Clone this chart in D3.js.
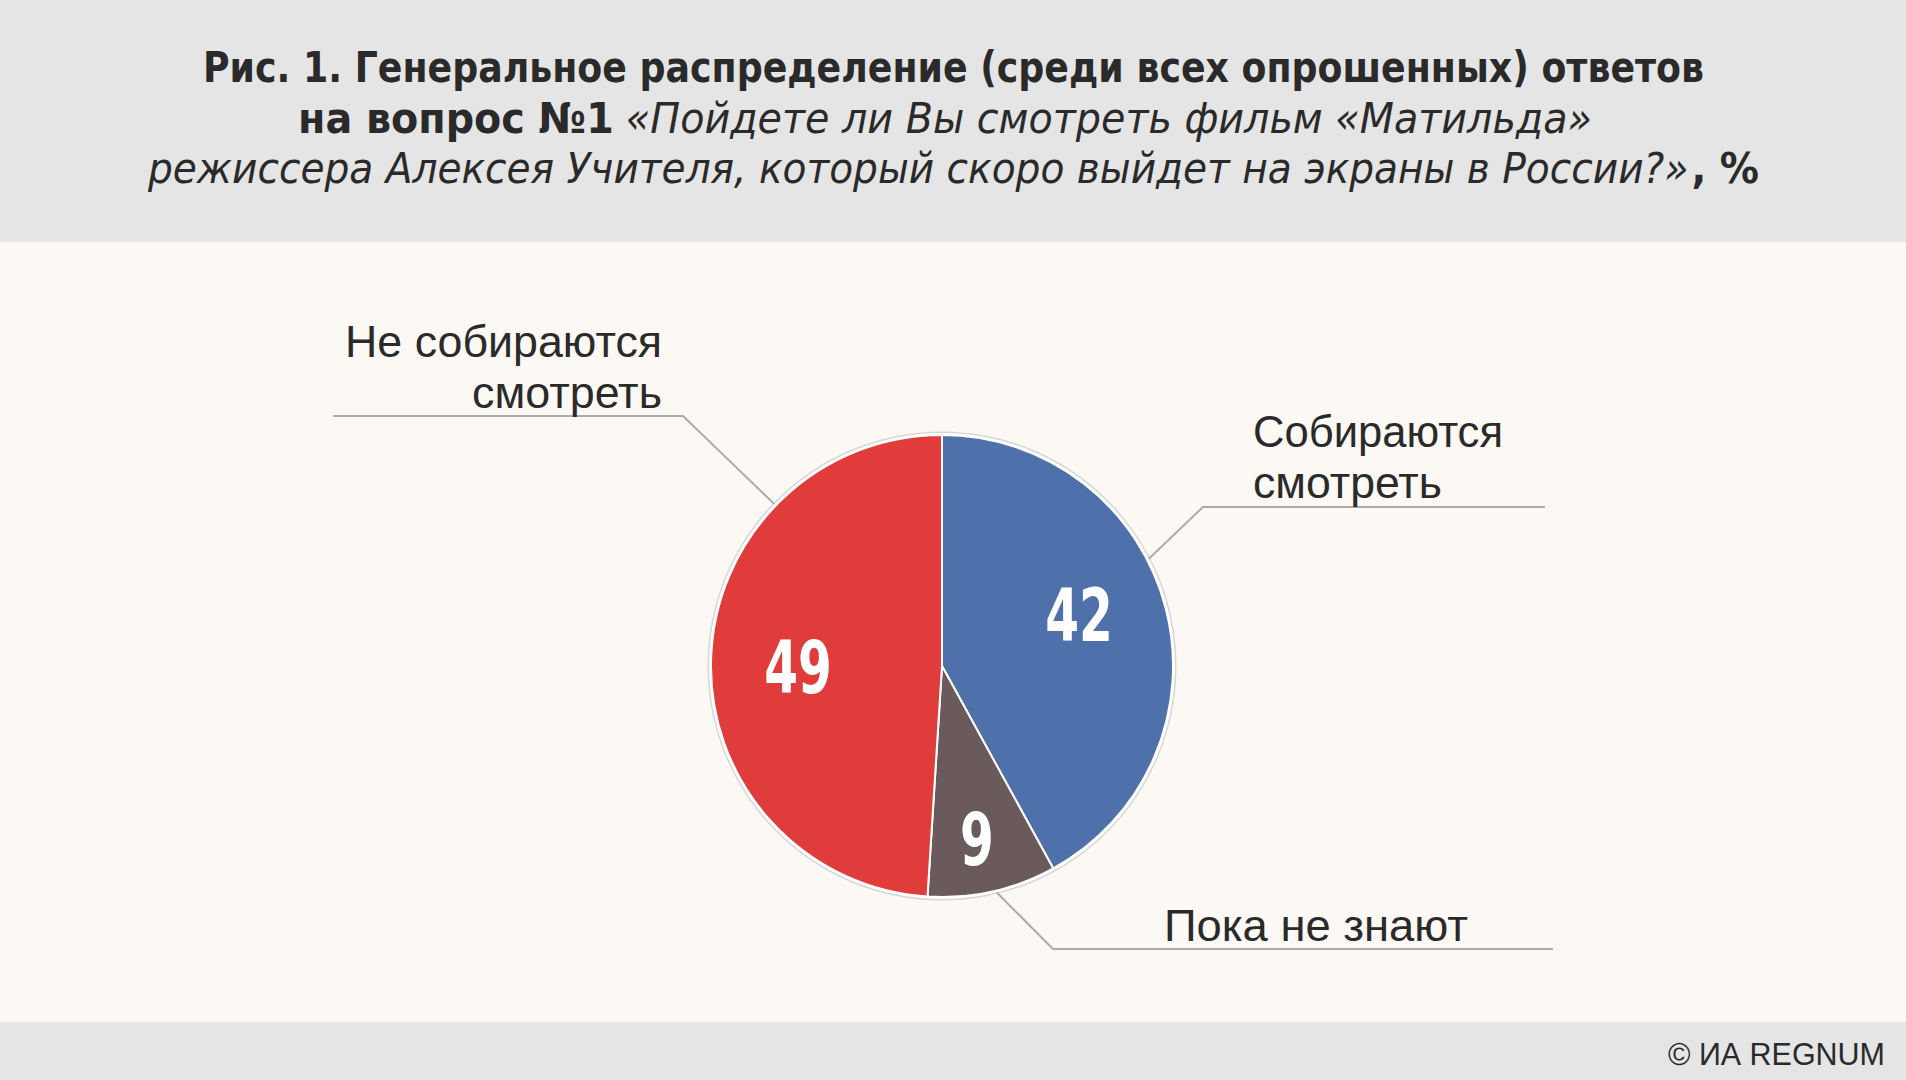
<!DOCTYPE html>
<html>
<head>
<meta charset="utf-8">
<script src="https://cdn.jsdelivr.net/npm/d3@7"></script>
<style>
  body { margin: 0; background: #fcf9f5; }
  svg { display: block; }
</style>
</head>
<body>
<div id="chart"></div>
<script>
const categories = ["Собираются смотреть", "Пока не знают", "Не собираются смотреть"];
const values = [42, 9, 49];
const colors = ["#4f71ab", "#6b5a5c", "#e03c3c"];
const labelLines = [["Собираются", "смотреть"], ["Пока не знают"], ["Не собираются", "смотреть"]];

const width = 1906, height = 1080;
const cx = 942, cy = 666, radius = 231;

// label layout: angle on the rim (deg, clockwise from top), elbow and end of leader, text position
const layout = [
    { angle: 62.6, elbow: [1203, 507], end: 1545, tx: 1253, ty: [447, 498], anchor: "start", len: [250, 189] },
    { angle: 166.4, elbow: [1053, 949], end: 1553, tx: 1164, ty: [941], anchor: "start", len: [304] },
    { angle: 314, elbow: [683, 416], end: 333, tx: 662, ty: [357, 408], anchor: "end", len: [317, 190] }
];
const numPos = [[1079, 615], [977, 839], [798, 667]];

const svg = d3.select("#chart")
    .append("svg")
    .attr("width", width)
    .attr("height", height);

svg.append("rect").attr("width", width).attr("height", height).attr("fill", "#fcf9f5");
svg.append("rect").attr("width", width).attr("height", 242).attr("fill", "#e5e5e5");
svg.append("rect").attr("y", 1022).attr("width", width).attr("height", 58).attr("fill", "#e5e5e5");

// title: each part is its own text, squeezed to fit the line's width
const titleFont = "'DejaVu Sans Condensed', 'Liberation Sans Narrow', sans-serif";
const title = [
    { y: 82, x1: 203, x2: 1704, parts: [["Рис. 1. Генеральное распределение (среди всех опрошенных) ответов", "bold"]] },
    { y: 133, x1: 298, x2: 1592, parts: [["на вопрос №1", "bold"], ["«Пойдете ли Вы смотреть фильм «Матильда»", "italic"]] },
    { y: 183, x1: 148, x2: 1759, parts: [["режиссера Алексея Учителя, который скоро выйдет на экраны в России?»", "italic"], [", %", "bold"]] }
];
const gaps = [0, 12, 3];
title.forEach((line, li) => {
    const gap = gaps[li];
    const texts = line.parts.map(p => svg.append("text")
        .attr("y", line.y)
        .style("font-family", titleFont)
        .style("font-size", "42.5px")
        .style("font-weight", p[1] === "bold" ? "bold" : "normal")
        .style("font-style", p[1] === "italic" ? "italic" : "normal")
        .attr("fill", "#2a2a2a")
        .text(p[0]));
    const widths = texts.map(t => t.node().getComputedTextLength());
    const k = (line.x2 - line.x1 - gap * (texts.length - 1)) / d3.sum(widths);
    let x = line.x1;
    texts.forEach((t, i) => {
        t.attr("x", x)
            .attr("textLength", widths[i] * k)
            .attr("lengthAdjust", "spacingAndGlyphs");
        x += widths[i] * k + gap;
    });
});

// pie
const pie = d3.pie().sort(null).value(d => d);
const arc = d3.arc().innerRadius(0).outerRadius(radius);
const arcs = pie(values);

const g = svg.append("g").attr("transform", `translate(${cx},${cy})`);

g.append("circle").attr("r", radius + 3.5).attr("fill", "#d6d6d6");
g.append("circle").attr("r", radius + 2).attr("fill", "#ffffff");

g.selectAll("path")
    .data(arcs)
    .enter()
    .append("path")
    .attr("d", arc)
    .attr("fill", (d, i) => colors[i])
    .attr("stroke", "#ffffff")
    .attr("stroke-width", 2)
    .attr("stroke-linejoin", "round");

// value labels (condensed by a horizontal squeeze)
svg.selectAll(".num")
    .data(arcs)
    .enter()
    .append("text")
    .attr("class", "num")
    .attr("transform", (d, i) => `translate(${numPos[i][0]},${numPos[i][1]}) scale(0.74,1)`)
    .attr("dy", "0.36em")
    .attr("text-anchor", "middle")
    .style("font-family", titleFont)
    .style("font-weight", "bold")
    .style("font-size", "73px")
    .attr("fill", "#ffffff")
    .text(d => d.value);

// leader lines and category labels
const labelFont = "'Liberation Sans', Arial, sans-serif";
categories.forEach((c, i) => {
    const L = layout[i];
    const a = L.angle * Math.PI / 180;
    const px = cx + (radius + 2) * Math.sin(a);
    const py = cy - (radius + 2) * Math.cos(a);
    svg.append("polyline")
        .attr("points", [[px, py], L.elbow, [L.end, L.elbow[1]]].map(p => p.join(",")).join(" "))
        .attr("fill", "none")
        .attr("stroke", "#ababab")
        .attr("stroke-width", 2);
    labelLines[i].forEach((s, j) => {
        svg.append("text")
            .attr("x", L.tx)
            .attr("y", L.ty[j])
            .attr("text-anchor", L.anchor)
            .attr("textLength", L.len[j])
            .attr("lengthAdjust", "spacingAndGlyphs")
            .style("font-family", labelFont)
            .style("font-size", "44px")
            .attr("fill", "#2a2a2a")
            .text(s);
    });
});

// footer
svg.append("text")
    .attr("x", 1885)
    .attr("y", 1065)
    .attr("text-anchor", "end")
    .attr("textLength", 217)
    .attr("lengthAdjust", "spacingAndGlyphs")
    .style("font-family", labelFont)
    .style("font-size", "32px")
    .attr("fill", "#2a2a2a")
    .text("© ИА REGNUM");
</script>
</body>
</html>
